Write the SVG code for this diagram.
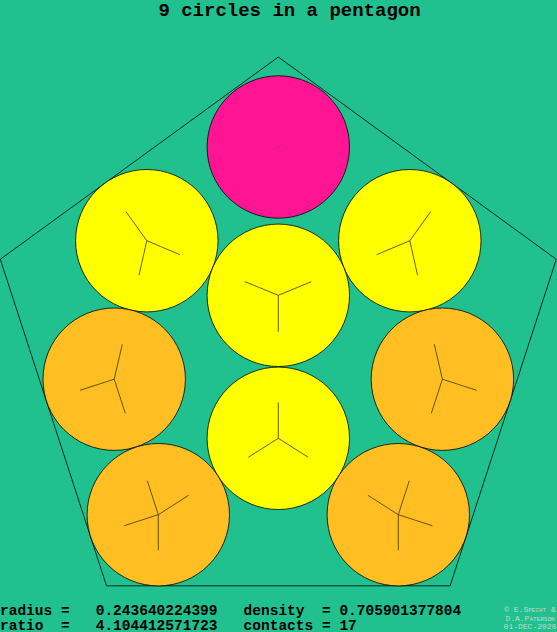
<svg xmlns="http://www.w3.org/2000/svg" width="557" height="632" viewBox="0 0 557 632">
<style>
.c{stroke:#000;stroke-width:0.8}
.y{fill:#ffff00}
.o{fill:#ffbe22}
.p{fill:#ff1493}
.s{stroke:#3a3a10;stroke-width:0.8;fill:none}
.t{font-family:"Liberation Mono","Courier New",monospace;font-weight:bold;fill:#000}
.cp{font-family:"Liberation Mono","Courier New",monospace;font-size:8px;fill:#c4d8cc;text-anchor:middle}
</style>
<rect width="557" height="632" fill="#21c08f"/>
<text class="t" x="289.5" y="15.5" font-size="19" text-anchor="middle">9 circles in a pentagon</text>
<polygon id="pentagon" points="278.3,57 556.3,259.3 450.1,585.8 106.5,585.8 0.3,259.3" fill="none" stroke="#0a2a20" stroke-width="1"/>
<g id="c1"><circle class="c p" cx="278.3" cy="147" r="71.2"/><circle cx="278.3" cy="147" r="0.6" fill="#206040"/></g>
<g id="c2"><circle class="c y" cx="146.8" cy="240.7" r="71.2"/><path class="s" d="M146.8,240.7L126,211.7M146.8,240.7L180,254.7M146.8,240.7L139,275.3"/></g>
<g id="c3"><circle class="c y" cx="409.8" cy="240.7" r="71.2"/><path class="s" d="M409.8,240.7L430.6,211.7M409.8,240.7L376.6,254.7M409.8,240.7L417.6,275.3"/></g>
<g id="c4"><circle class="c y" cx="278.3" cy="295.3" r="71.2"/><path class="s" d="M278.3,295.3L245,281.7M278.3,295.3L311.3,281.7M278.3,295.3L278.3,331.7"/></g>
<g id="c5"><circle class="c o" cx="114.2" cy="379.2" r="71.2"/><path class="s" d="M114.2,379.2L122.3,344.3M114.2,379.2L80,390.3M114.2,379.2L125.3,413.3"/></g>
<g id="c6"><circle class="c o" cx="442.4" cy="379.2" r="71.2"/><path class="s" d="M442.4,379.2L434.3,344.3M442.4,379.2L476.6,390.3M442.4,379.2L431.3,413.3"/></g>
<g id="c7"><circle class="c y" cx="278.3" cy="438.3" r="71.2"/><path class="s" d="M278.3,438.3L278.3,402.3M278.3,438.3L248.3,457.3M278.3,438.3L308.3,457.3"/></g>
<g id="c8"><circle class="c o" cx="158.3" cy="514.7" r="71.2"/><path class="s" d="M158.3,514.7L147.3,480.7M158.3,514.7L188.7,495.3M158.3,514.7L124.3,525.7M158.3,514.7L158.3,550.3"/></g>
<g id="c9"><circle class="c o" cx="398.3" cy="514.7" r="71.2"/><path class="s" d="M398.3,514.7L409.3,480.7M398.3,514.7L367.9,495.3M398.3,514.7L432.3,525.7M398.3,514.7L398.3,550.3"/></g>
<g id="info" class="t" font-size="14.5">
<text x="0" y="615">radius</text><text x="61" y="615">=</text><text x="95.7" y="615">0.243640224399</text>
<text x="243.6" y="615">density</text><text x="322" y="615">=</text><text x="339.4" y="615">0.705901377804</text>
<text x="0" y="629.5">ratio</text><text x="61" y="629.5">=</text><text x="95.7" y="629.5">4.104412571723</text>
<text x="243.6" y="629.5">contacts</text><text x="322" y="629.5">=</text><text x="339.4" y="629.5">17</text>
</g>
<g id="credit">
<text class="cp" x="530" y="611.5" style="font-variant:small-caps">© E.Specht &amp;</text>
<text class="cp" x="530" y="620.5" style="font-variant:small-caps">D.A.Paterson</text>
<text class="cp" x="530" y="629">01-DEC-2020</text>
</g>
</svg>
